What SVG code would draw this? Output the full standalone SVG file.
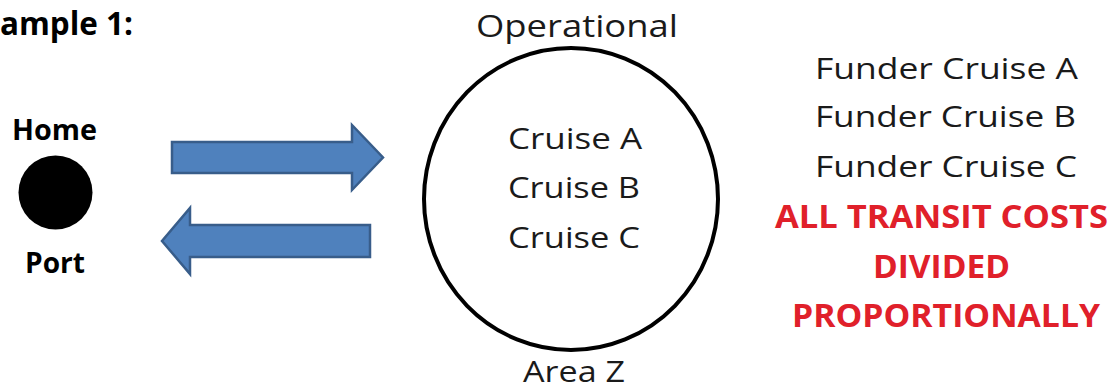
<svg xmlns="http://www.w3.org/2000/svg" width="1119" height="391" viewBox="0 0 1119 391">
<style>
text{font-family:"Open Sans","Liberation Sans",sans-serif;fill:#1a1a1a}
.r{font-size:30px}
.b{font-size:28px;font-weight:bold;fill:#000}
.red{font-size:32px;font-weight:bold;fill:#e0202a}
.arrow{fill:#4f81bd;stroke:#385d8a;stroke-width:2.5;stroke-linejoin:miter}
</style>
<rect width="1119" height="391" fill="#fff"/>
<text id="title" x="0" y="35" class="b" style="font-size:32px" textLength="133" lengthAdjust="spacingAndGlyphs">ample 1:</text>
<g id="home-port">
<text x="12" y="140" class="b" textLength="85" lengthAdjust="spacingAndGlyphs">Home</text>
<circle cx="55.5" cy="192.5" r="37" fill="#000"/>
<text x="25" y="273" class="b" textLength="60" lengthAdjust="spacingAndGlyphs">Port</text>
</g>
<g id="connectors">
<polygon class="arrow" points="172,142 352,142 352,125 383,157.5 352,190 352,173 172,173"/>
<polygon class="arrow" points="370,225 190,225 190,208 162,241 190,274 190,257 370,257"/>
</g>
<g id="area">
<text x="476" y="37" class="r" style="font-size:31px" textLength="202" lengthAdjust="spacingAndGlyphs">Operational</text>
<ellipse cx="571" cy="199" rx="147" ry="151" fill="none" stroke="#000" stroke-width="4"/>
<text x="508" y="149" class="r" textLength="134" lengthAdjust="spacingAndGlyphs">Cruise A</text>
<text x="508" y="198" class="r" textLength="132" lengthAdjust="spacingAndGlyphs">Cruise B</text>
<text x="508" y="248" class="r" textLength="132" lengthAdjust="spacingAndGlyphs">Cruise C</text>
<text x="523" y="382" class="r" textLength="102" lengthAdjust="spacingAndGlyphs">Area Z</text>
</g>
<g id="funders">
<text x="815" y="79" class="r" textLength="263" lengthAdjust="spacingAndGlyphs">Funder Cruise A</text>
<text x="815" y="127" class="r" textLength="261" lengthAdjust="spacingAndGlyphs">Funder Cruise B</text>
<text x="815" y="177" class="r" textLength="262" lengthAdjust="spacingAndGlyphs">Funder Cruise C</text>
</g>
<g id="note">
<text x="775" y="228" class="red" textLength="333" lengthAdjust="spacingAndGlyphs">ALL TRANSIT COSTS</text>
<text x="873" y="278" class="red" textLength="137" lengthAdjust="spacingAndGlyphs">DIVIDED</text>
<text x="792" y="327" class="red" textLength="308" lengthAdjust="spacingAndGlyphs">PROPORTIONALLY</text>
</g>
</svg>
